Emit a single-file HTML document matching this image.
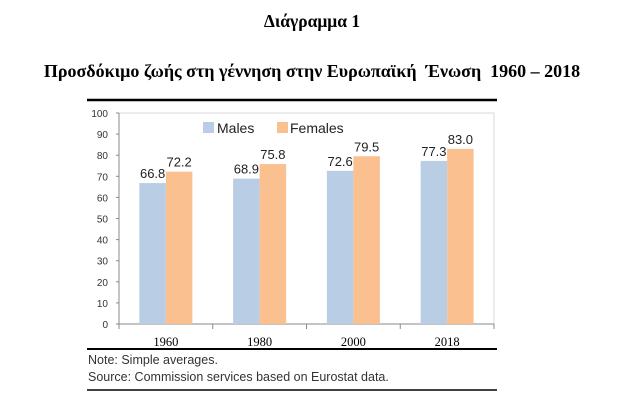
<!DOCTYPE html>
<html><head><meta charset="utf-8"><style>
body{margin:0;width:624px;height:408px;background:#fff;overflow:hidden;font-family:"Liberation Sans",sans-serif}
.t{position:absolute;left:0;width:624px;text-align:center;font-family:"Liberation Serif",serif;font-weight:bold;color:#000;white-space:nowrap}
</style></head><body>
<div class="t" style="top:11px;font-size:17.5px">Διάγραμμα 1</div>
<div class="t" style="top:61px;font-size:18px">Προσδόκιμο ζωής στη γέννηση στην Ευρωπαϊκή &nbsp;Ένωση &nbsp;1960 – 2018</div>
<svg id="c" width="624" height="408" style="position:absolute;left:0;top:0"></svg>
<script>
const categories=["1960","1980","2000","2018"];
const males=[66.8,68.9,72.6,77.3];
const females=[72.2,75.8,79.5,83.0];
const yTicks=[0,10,20,30,40,50,60,70,80,90,100];
const svg=document.getElementById('c');const NS='http://www.w3.org/2000/svg';
function mk(t,a,p){const e=document.createElementNS(NS,t);for(const k in a)e.setAttribute(k,a[k]);(p||svg).appendChild(e);return e;}
const L=119,R=494,T=113,B=324;
const y=v=>B-(v/100)*(B-T);
const cw=(R-L)/categories.length;const bw=26.5;
let e;
e=mk('line',{x1:87,x2:497,y1:100,y2:100,stroke:'#000','stroke-width':2.5});

e=mk('rect',{x:L,y:T,width:R-L,height:B-T,fill:'none',stroke:'#d9d9d9'});

yTicks.forEach(v=>{e=mk('text',{x:108,y:y(v)+4,'text-anchor':'end','font-size':10,fill:'#333'});e.textContent=v;

mk('line',{x1:L-3,x2:L,y1:y(v),y2:y(v),stroke:'#888'});});
mk('line',{x1:L,x2:L,y1:T,y2:B,stroke:'#888'});
mk('line',{x1:L,x2:R,y1:B,y2:B,stroke:'#888'});
for(let i=0;i<=categories.length;i++)mk('line',{x1:L+i*cw,x2:L+i*cw,y1:B,y2:B+5,stroke:'#888'});
categories.forEach((c,i)=>{const cx=L+cw*(i+0.5);
e=mk('rect',{x:cx-bw,y:y(males[i]),width:bw,height:B-y(males[i]),fill:'#b9cde5'});

e=mk('rect',{x:cx,y:y(females[i]),width:bw,height:B-y(females[i]),fill:'#fac090'});

e=mk('text',{x:cx-bw/2,y:y(males[i])-5,'text-anchor':'middle','font-size':13,fill:'#222'});e.textContent=males[i].toFixed(1);

e=mk('text',{x:cx+bw/2,y:y(females[i])-5,'text-anchor':'middle','font-size':13,fill:'#222'});e.textContent=females[i].toFixed(1);

e=mk('text',{x:cx,y:346,'text-anchor':'middle','font-size':12.5,'font-family':'Liberation Serif, serif',fill:'#000'});e.textContent=c;
});
e=mk('rect',{x:203,y:122,width:11,height:11,fill:'#b9cde5'});
e=mk('text',{x:217,y:133,'font-size':14,fill:'#222'});e.textContent='Males';
e=mk('rect',{x:277,y:122,width:11,height:11,fill:'#fac090'});
e=mk('text',{x:290,y:133,'font-size':14,fill:'#222'});e.textContent='Females';
e=mk('line',{x1:87,x2:497,y1:349,y2:349,stroke:'#000','stroke-width':2});
e=mk('text',{x:88,y:364,'font-size':12.5,fill:'#333'});e.textContent='Note: Simple averages.';
e=mk('text',{x:88,y:381,'font-size':12.5,fill:'#333'});e.textContent='Source: Commission services based on Eurostat data.';
e=mk('line',{x1:87,x2:497,y1:390,y2:390,stroke:'#000','stroke-width':1.5});
</script>
</body></html>
